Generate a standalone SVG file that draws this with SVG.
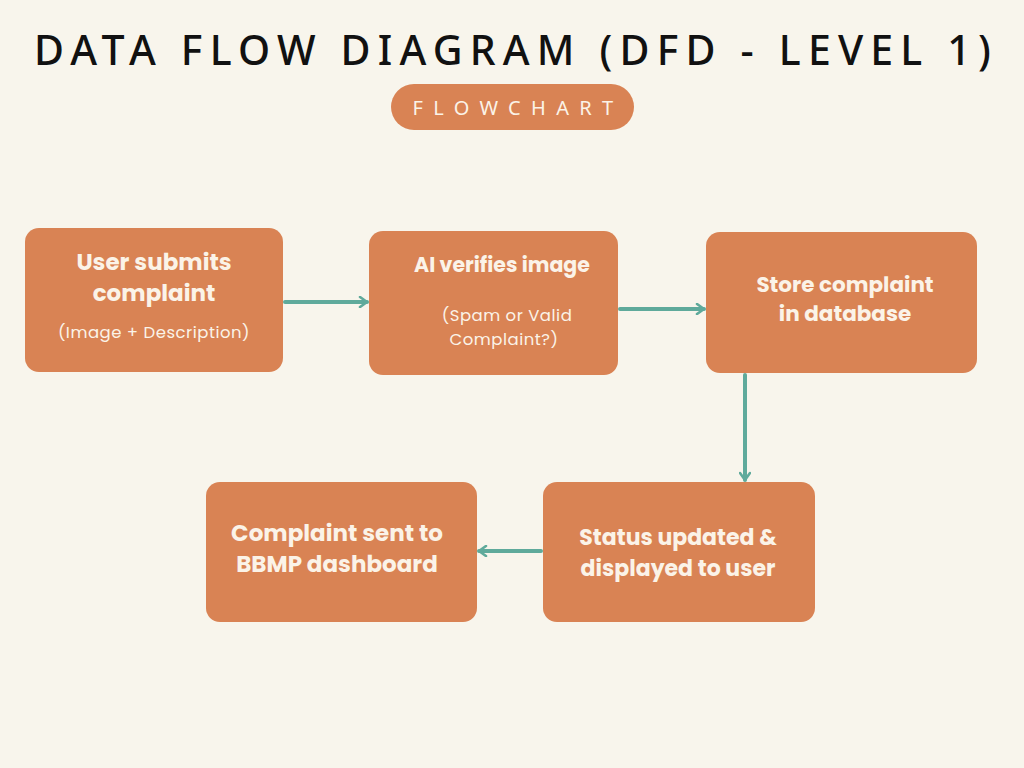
<svg xmlns="http://www.w3.org/2000/svg" width="1024" height="768" viewBox="0 0 1024 768">
<style>
.box{fill:#D98354;}
.h{font-family:"Poppins","Noto Sans","Liberation Sans",sans-serif;font-weight:bold;fill:#FBF3E8;text-anchor:middle;}
.s{font-family:"Poppins","Noto Sans","Liberation Sans",sans-serif;fill:#FBF3E8;text-anchor:middle;font-size:16.5px;letter-spacing:0.5px;}
.c{fill:none;stroke:#5FAA9B;stroke-width:4;stroke-linecap:round;stroke-linejoin:round;}
</style>
<defs>
<marker id="ah" viewBox="0 0 12 12" refX="10" refY="6" markerWidth="12" markerHeight="12" markerUnits="userSpaceOnUse" orient="auto">
<path d="M3,1 L10,6 L3,11" fill="none" stroke="#5FAA9B" stroke-width="2.6" stroke-linecap="round" stroke-linejoin="round"/>
</marker>
</defs>
<rect width="1024" height="768" fill="#F8F5EC"/>
<g id="title">
<text x="516" y="65" font-family="'Noto Sans','Liberation Sans',sans-serif" font-size="41" font-weight="500" letter-spacing="7.2" text-anchor="middle" fill="#111">DATA FLOW DIAGRAM (DFD - LEVEL 1)</text>
</g>
<g id="pill">
<rect x="391" y="84" width="243" height="46" rx="23" fill="#D98354"/>
<text x="518" y="115" font-family="'Noto Sans','Liberation Sans',sans-serif" font-size="20" letter-spacing="10.3" text-anchor="middle" fill="#FBF3E8">FLOWCHART</text>
</g>
<g id="connectors">
<line class="c" x1="285" y1="302" x2="367" y2="302" marker-end="url(#ah)"/>
<line class="c" x1="620" y1="309" x2="704" y2="309" marker-end="url(#ah)"/>
<line class="c" x1="745" y1="375" x2="745" y2="480" marker-end="url(#ah)"/>
<line class="c" x1="541" y1="551" x2="479" y2="551" marker-end="url(#ah)"/>
</g>
<g id="n1">
<rect class="box" x="25" y="228" width="258" height="144" rx="14"/>
<text class="h" x="154" y="270" font-size="23">User submits</text>
<text class="h" x="154" y="301" font-size="23">complaint</text>
<text class="s" x="154" y="338">(Image + Description)</text>
</g>
<g id="n2">
<rect class="box" x="369" y="231" width="249" height="144" rx="14"/>
<text class="h" x="502" y="272" font-size="20.5">AI verifies image</text>
<text class="s" x="507" y="321">(Spam or Valid</text>
<text class="s" x="504" y="345">Complaint?)</text>
</g>
<g id="n3">
<rect class="box" x="706" y="232" width="271" height="141" rx="14"/>
<text class="h" x="845" y="292" font-size="21.5">Store complaint</text>
<text class="h" x="845" y="321" font-size="21.5">in database</text>
</g>
<g id="n4">
<rect class="box" x="543" y="482" width="272" height="140" rx="14"/>
<text class="h" x="678" y="545" font-size="22">Status updated &amp;</text>
<text class="h" x="678" y="576" font-size="22">displayed to user</text>
</g>
<g id="n5">
<rect class="box" x="206" y="482" width="271" height="140" rx="14"/>
<text class="h" x="337" y="541" font-size="23">Complaint sent to</text>
<text class="h" x="337" y="572" font-size="23">BBMP dashboard</text>
</g>
</svg>
